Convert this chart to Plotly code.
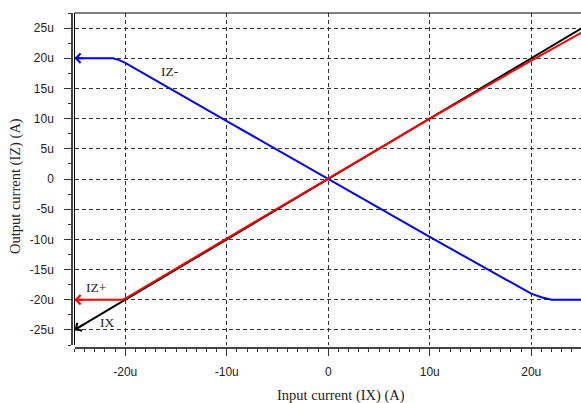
import plotly.graph_objects as go

# Data in micro-amps
ix_x = [-25, 25]
ix_y = [-25, 25]

izp_x = [-25, -20.3, -20, -10, 0, 10, 20, 25]
izp_y = [-20, -20, -19.8, -9.9, 0, 10, 19.6, 24.3]

izm_x = [-25, -21.2, -20.6, -20, -10, 0, 10, 20, 21, 22, 25]
izm_y = [20, 20, 19.7, 19.25, 9.6, 0, -9.6, -19.0, -19.6, -20, -20]

x_tickvals = [-20, -10, 0, 10, 20]
x_ticktext = ["-20u", "-10u", "0", "10u", "20u"]
y_tickvals = [-25, -20, -15, -10, -5, 0, 5, 10, 15, 20, 25]
y_ticktext = ["-25u", "-20u", "-15u", "-10u", "-5u", "0", "5u", "10u", "15u", "20u", "25u"]

series = [
    ("IX", ix_x, ix_y, "#000000", -21.8, -23.8),
    ("IZ-", izm_x, izm_y, "#0000FF", -15.6, 17.8),
    ("IZ+", izp_x, izp_y, "#FF0000", -22.9, -17.9),
]

W, H = 581, 403
ML, MR, MT, MB = 72, 0, 13, 55
pw = W - ML - MR
ph = H - MT - MB

fig = go.Figure()
annotations = []
for name, xs, ys, col, lx, ly in series:
    fig.add_trace(go.Scatter(x=xs, y=ys, mode="lines", name=name,
                             line=dict(color=col, width=2), showlegend=False))
    # arrow at left end
    tx = xs[0] + 0.25 * (xs[1] - xs[0]) if (xs[1] - xs[0]) < 2 else xs[0] + 1.0
    ty = ys[0] + (tx - xs[0]) * (ys[1] - ys[0]) / (xs[1] - xs[0])
    annotations.append(dict(x=xs[0], y=ys[0], ax=tx, ay=ty, xref="x", yref="y",
                            axref="x", ayref="y", text="", showarrow=True,
                            arrowhead=4, arrowsize=0.9, arrowwidth=2,
                            arrowcolor=col, standoff=0))
    annotations.append(dict(x=lx, y=ly, xref="x", yref="y", text=name,
                            showarrow=False,
                            font=dict(family="Liberation Serif", size=13.5, color="#222")))

annotations.append(dict(x=(340.5 - ML) / pw, y=(H - MB - 395) / ph, xref="paper", yref="paper",
                        text="Input current (IX) (A)", showarrow=False,
                        xanchor="center", yanchor="middle",
                        font=dict(family="Liberation Serif", size=14.5, color="#222")))
annotations.append(dict(x=(15 - ML) / pw, y=(H - MB - 186) / ph, xref="paper", yref="paper",
                        text="Output current (IZ) (A)", showarrow=False, textangle=-90,
                        xanchor="center", yanchor="middle",
                        font=dict(family="Liberation Serif", size=14.5, color="#222")))

x0dom = (74.5 - ML) / pw
y0dom = (H - MB - 345) / ph

fig.update_layout(
    width=W, height=H,
    margin=dict(l=ML, r=MR, t=MT, b=MB, pad=0),
    paper_bgcolor="white", plot_bgcolor="white",
    annotations=annotations,
    xaxis=dict(domain=[x0dom, 1], anchor="free", position=0,
               range=[-25, -25 + (W - 74.5) / 10.15],
               tickmode="array", tickvals=x_tickvals, ticktext=x_ticktext,
               ticks="outside", ticklen=7, tickwidth=1, tickcolor="#333",
               showline=True, linecolor="#444", linewidth=1.5,
               showgrid=True, gridcolor="#333", gridwidth=1, griddash="4px,3px",
               zeroline=False, ticklabelstandoff=6,
               minor=dict(tickmode="linear", tick0=0, dtick=1, ticks="outside",
                          ticklen=3.5, tickcolor="#333", showgrid=False),
               tickfont=dict(family="Liberation Sans", size=12, color="#222")),
    yaxis=dict(domain=[y0dom, 1], anchor="free", position=0,
               range=[-27.5, 27.5],
               tickmode="array", tickvals=y_tickvals, ticktext=y_ticktext,
               ticks="outside", ticklen=7, tickwidth=1, tickcolor="#333",
               showline=True, linecolor="#444", linewidth=1.5,
               showgrid=True, gridcolor="#333", gridwidth=1, griddash="4px,3px",
               zeroline=False, ticklabelstandoff=8,
               minor=dict(tickmode="linear", tick0=0, dtick=2.5, ticks="outside",
                          ticklen=3.5, tickcolor="#333", showgrid=False),
               tickfont=dict(family="Liberation Sans", size=12, color="#222")),
    shapes=[
        dict(type="line", xref="x domain", yref="y domain", x0=0, x1=1, y0=1, y1=1,
             line=dict(color="black", width=1)),
        dict(type="line", xref="x domain", yref="y domain", x0=0, x1=0, y0=0, y1=1,
             line=dict(color="black", width=1)),
    ],
)

fig.write_html("out.html")
